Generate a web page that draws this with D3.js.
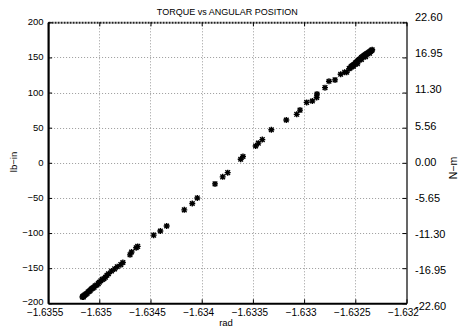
<!DOCTYPE html>
<html>
<head>
<meta charset="utf-8">
<script src="https://cdn.jsdelivr.net/npm/d3@7"></script>
<style>
  html, body { margin: 0; padding: 0; background: #fff; }
  svg { display: block; font-family: "Liberation Sans", Arial, sans-serif; }
</style>
</head>
<body>
<div id="chart"></div>
<script>
// angular position (rad) and torque (lb-in)
const rad = [
  -1.635165, -1.63516, -1.635155, -1.63515, -1.63514, -1.63513, -1.63512, -1.63511,
  -1.6351, -1.63509, -1.63508, -1.63507, -1.63506, -1.63505, -1.63504, -1.635025,
  -1.63501, -1.635, -1.634985, -1.63497, -1.634955, -1.63494, -1.634925, -1.63491,
  -1.63488, -1.63485, -1.634825, -1.63479, -1.63477, -1.6347, -1.634685, -1.63464,
  -1.634625, -1.634469, -1.634404, -1.634342, -1.63417, -1.634092, -1.634043,
  -1.63387, -1.633795, -1.633746, -1.633619, -1.633597, -1.633473, -1.633447,
  -1.633408, -1.63332, -1.633174, -1.633072, -1.63304, -1.632975, -1.63292,
  -1.632877, -1.632874, -1.632796, -1.632757, -1.632698, -1.632643, -1.632604,
  -1.632584, -1.63256, -1.63255, -1.63254, -1.63253, -1.63252, -1.63251, -1.6325,
  -1.63249, -1.63248, -1.63247, -1.63246, -1.63245, -1.63244, -1.63243, -1.63242,
  -1.63241, -1.6324, -1.63239, -1.63238, -1.63237, -1.63236, -1.63235, -1.63234,
  -1.632335, -1.63252, -1.63248, -1.63244, -1.6324, -1.63236
];
const torque = [
  -191, -190, -191, -189, -188, -187, -186, -184,
  -183, -182, -180, -179, -178, -177, -175, -174,
  -172, -170, -168, -166, -165, -163, -160, -158,
  -154, -151, -148, -145, -142, -131, -127, -121,
  -119, -103, -97, -90, -67, -58, -50,
  -30, -20, -14, 5, 9, 24, 28,
  33, 47, 61, 69, 75, 86, 88,
  93, 98, 107, 116, 118, 126, 129,
  129, 134, 135, 137, 138, 139, 140, 142,
  143, 144, 146, 147, 148, 150, 151, 152,
  153, 154, 155, 156, 157, 158, 159, 160,
  161, 137, 141, 147, 151, 156
];

const xTicks = [-1.6355, -1.635, -1.6345, -1.634, -1.6335, -1.633, -1.6325, -1.632];
const yTicks = [-200, -150, -100, -50, 0, 50, 100, 150, 200];
const rightTicks = [-22.60, -16.95, -11.30, -5.65, 0.00, 5.56, 11.30, 16.95, 22.60];
const rightLabels = ['-22.60', '-16.95', '-11.30', '-5.65', '0.00', '5.56', '11.30', '16.95', '22.60'];

const title = 'TORQUE vs ANGULAR POSITION';
const xTitle = 'rad';
const yTitle = 'lb\u2212in';
const y2Title = 'N\u2212m';

const width = 459;
const height = 329;
const margin = { top: 22.3, right: 52.5, bottom: 25.7, left: 48.1 };

const plot = {
    left: margin.left,
    right: width - margin.right,
    top: margin.top,
    bottom: height - margin.bottom,
};

const svg = d3.select('#chart')
    .append('svg')
    .attr('width', width)
    .attr('height', height);

svg.append('rect').attr('width', width).attr('height', height).attr('fill', '#fff');

const xScale = d3.scaleLinear().domain([-1.6355, -1.632]).range([plot.left, plot.right]);
const yScale = d3.scaleLinear().domain([-200, 200]).range([plot.bottom, plot.top]);
// the N-m labels sit on a slightly taller scale than the box
const y2Scale = d3.scaleLinear().domain([-22.6, 22.6]).range([306, 17]);

const minus = (s) => s.replace('-', '\u2212');

// grid
const grid = svg.append('g').attr('class', 'grid')
    .attr('stroke', '#9a9a9a')
    .attr('stroke-width', 1)
    .attr('stroke-dasharray', '1,2');

grid.selectAll('line.gx')
    .data(xTicks.slice(1, -1))
    .join('line')
    .attr('x1', (d) => Math.round(xScale(d)) + 0.5)
    .attr('x2', (d) => Math.round(xScale(d)) + 0.5)
    .attr('y1', plot.top)
    .attr('y2', plot.bottom);

grid.selectAll('line.gy')
    .data(yTicks.slice(1, -1))
    .join('line')
    .attr('y1', (d) => Math.round(yScale(d)) + 0.5)
    .attr('y2', (d) => Math.round(yScale(d)) + 0.5)
    .attr('x1', plot.left)
    .attr('x2', plot.right);

// axes: inward ticks, labels drawn separately
const xAxis = svg.append('g')
    .attr('transform', `translate(0, ${plot.bottom})`)
    .call(d3.axisBottom(xScale).tickValues(xTicks).tickSizeInner(-4).tickSizeOuter(0).tickFormat(''));
xAxis.select('.domain').attr('stroke', '#000').attr('stroke-width', 2);

const xAxisTop = svg.append('g')
    .attr('transform', `translate(0, ${plot.top})`)
    .call(d3.axisTop(xScale).tickValues(xTicks).tickSizeInner(-4).tickSizeOuter(0).tickFormat(''));
xAxisTop.select('.domain').attr('stroke', '#222').attr('stroke-width', 2).attr('stroke-dasharray', '2,1');

const yAxis = svg.append('g')
    .attr('transform', `translate(${plot.left}, 0)`)
    .call(d3.axisLeft(yScale).tickValues(yTicks).tickSizeInner(-4).tickSizeOuter(0).tickFormat(''));
yAxis.select('.domain').attr('stroke', '#000').attr('stroke-width', 2.2);

const yAxisRight = svg.append('g')
    .attr('transform', `translate(${plot.right}, 0)`)
    .call(d3.axisRight(yScale).tickValues(yTicks).tickSizeInner(-4).tickSizeOuter(0).tickFormat(''));
yAxisRight.select('.domain').attr('stroke', '#000').attr('stroke-width', 1.2);

svg.selectAll('.tick line').attr('stroke', '#000');

// tick labels
svg.append('g').selectAll('text')
    .data(xTicks)
    .join('text')
    .attr('x', (d) => xScale(d) - 3)
    .attr('y', plot.bottom + 12.2)
    .attr('text-anchor', 'middle')
    .attr('font-size', 10)
    .text((d) => minus(String(d)));

svg.append('g').selectAll('text')
    .data(yTicks)
    .join('text')
    .attr('x', plot.left - 4.5)
    .attr('y', (d) => yScale(d) + (d === -200 ? 2 : 3))
    .attr('text-anchor', 'end')
    .attr('font-size', 9.5)
    .text((d) => minus(String(d)));

svg.append('g').selectAll('text')
    .data(rightTicks)
    .join('text')
    .attr('x', 415)
    .attr('y', (d) => y2Scale(d) + 4)
    .attr('font-size', 11)
    .text((d, i) => rightLabels[i]);

// titles
svg.append('text')
    .attr('x', (plot.left + plot.right) / 2)
    .attr('y', 15)
    .attr('text-anchor', 'middle')
    .attr('font-size', 9)
    .text(title);

svg.append('text')
    .attr('x', 226)
    .attr('y', 325.5)
    .attr('text-anchor', 'middle')
    .attr('font-size', 9.5)
    .text(xTitle);

svg.append('text')
    .attr('transform', `translate(17, 162) rotate(-90)`)
    .attr('text-anchor', 'middle')
    .attr('font-size', 9.5)
    .text(yTitle);

svg.append('text')
    .attr('transform', `translate(457, 168) rotate(-90)`)
    .attr('text-anchor', 'middle')
    .attr('font-size', 10.5)
    .text(y2Title);

// asterisk markers
const s = 3;
const k = 2.3;
const star = `M${-s},0H${s}M0,${-s}V${s}M${-k},${-k}L${k},${k}M${-k},${k}L${k},${-k}`;

svg.append('g').attr('class', 'dots')
    .selectAll('path')
    .data(rad.map((r, i) => ({ r, t: torque[i] })))
    .join('path')
    .attr('transform', (d) => `translate(${xScale(d.r)}, ${yScale(d.t)})`)
    .attr('d', star)
    .attr('fill', 'none')
    .attr('stroke', '#000')
    .attr('stroke-width', 1.4);
</script>
</body>
</html>
